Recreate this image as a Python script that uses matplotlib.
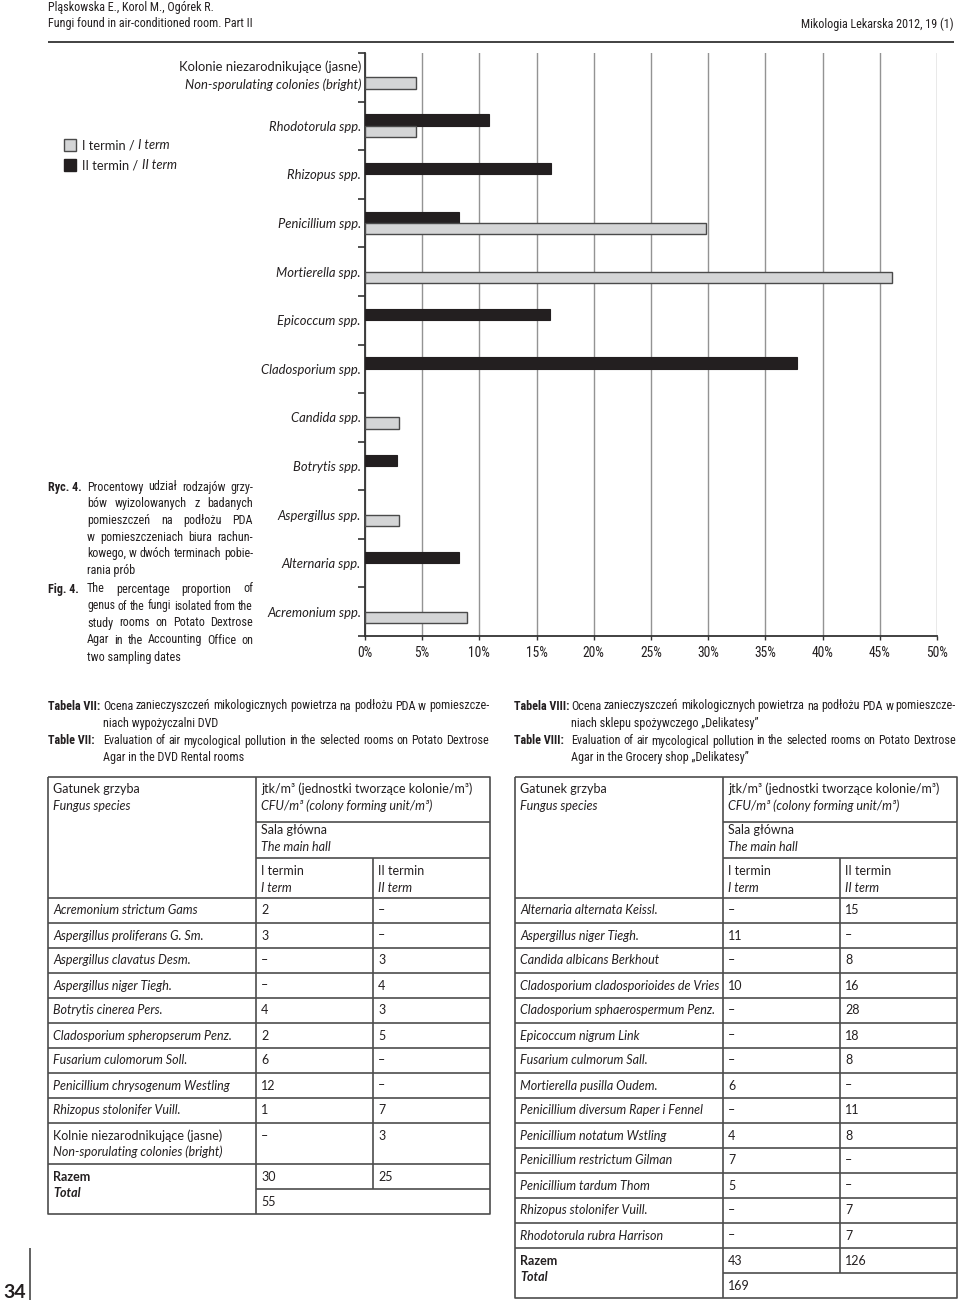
import numpy as np
import matplotlib
matplotlib.use("Agg")
import matplotlib.pyplot as plt
from matplotlib import font_manager

INK = "#231f20"
BODY = "Lato"

# a condensed family if one is installed, otherwise Roboto (sized to fit below)
cond_names = sorted({f.name for f in font_manager.fontManager.ttflist if f.stretch == "condensed"})
COND, STRETCH = "Roboto", "normal"
for pref in ["Liberation Sans Narrow", "Roboto Condensed", "Open Sans Condensed",
             "Noto Sans", "Roboto", "Open Sans", "Liberation Sans", "DejaVu Sans"]:
    if pref in cond_names:
        COND, STRETCH = pref, "condensed"
        break

# ---------------- chart data (% of isolates) ----------------
categories = ["Non-sporulating colonies (bright)", "Rhodotorula spp.", "Rhizopus spp.",
              "Penicillium spp.", "Mortierella spp.", "Epicoccum spp.", "Cladosporium spp.",
              "Candida spp.", "Botrytis spp.", "Aspergillus spp.", "Alternaria spp.",
              "Acremonium spp."]
term1 = [4.5, 4.5, 0, 29.8, 46.1, 0, 0, 3.0, 0, 3.0, 0, 8.9]
term2 = [0, 10.8, 16.3, 8.2, 0, 16.2, 37.8, 0, 2.8, 0, 8.2, 0]
xticks = [0, 5, 10, 15, 20, 25, 30, 35, 40, 45, 50]

# ---------------- table VII ----------------
t7_species = ["Acremonium strictum Gams", "Aspergillus proliferans G. Sm.",
              "Aspergillus clavatus Desm.", "Aspergillus niger Tiegh.",
              "Botrytis cinerea Pers.", "Cladosporium spheropserum Penz.",
              "Fusarium culomorum Soll.", "Penicillium chrysogenum Westling",
              "Rhizopus stolonifer Vuill."]
t7_term1 = ["2", "3", "–", "–", "4", "2", "6", "12", "1"]
t7_term2 = ["–", "–", "3", "4", "3", "5", "–", "–", "7"]
t7_bright = ["–", "3"]
t7_totals = ["30", "25", "55"]

# ---------------- table VIII ----------------
t8_species = ["Alternaria alternata Keissl.", "Aspergillus niger Tiegh.",
              "Candida albicans Berkhout", "Cladosporium cladosporioides de Vries",
              "Cladosporium sphaerospermum Penz.", "Epicoccum nigrum Link",
              "Fusarium culmorum Sall.", "Mortierella pusilla Oudem.",
              "Penicillium diversum Raper i Fennel", "Penicillium notatum Wstling",
              "Penicillium restrictum Gilman", "Penicillium tardum Thom",
              "Rhizopus stolonifer Vuill.", "Rhodotorula rubra Harrison"]
t8_term1 = ["–", "11", "–", "10", "–", "–", "–", "6", "–", "4", "7", "5", "–", "–"]
t8_term2 = ["15", "–", "8", "16", "28", "18", "8", "–", "11", "8", "–", "–", "7", "7"]
t8_totals = ["43", "126", "169"]

cap_pl = "Ocena zanieczyszczeń mikologicznych powietrza na podłożu PDA w pomieszcze-"
cap_en = "Evaluation of air mycological pollution in the selected rooms on Potato Dextrose"

fig = plt.figure(figsize=(9.6, 13.04), dpi=100)

# page layer in pixel coordinates
page = fig.add_axes([0, 0, 1, 1])
page.set_xlim(0, 960)
page.set_ylim(1304, 0)
page.axis("off")
renderer = fig.canvas.get_renderer()

TS = 9.0   # table text size


def txt(x, y, s, size=None, family=None, **kw):
    kw.setdefault("va", "center")
    if family is None:
        family = COND
        kw.setdefault("fontstretch", STRETCH)
    return page.text(x, y, s, fontsize=size or CS, family=family, color=INK, **kw)


def width_of(s, size, **kw):
    t = txt(0, 0, s, size=size, **kw)
    w = t.get_window_extent(renderer).width
    t.remove()
    return w


# size the condensed-style text so the caption line takes its width in the page
CS = 10 * 383 / width_of(cap_pl, 10)


def line(xs, ys, lw=1.2, color="#4d4d4d"):
    page.plot(xs, ys, color=color, lw=lw, solid_capstyle="butt")


def justified(s, x0, x1, y):
    words = s.split()
    size = CS
    widths = [width_of(w, size) for w in words]
    need = sum(widths) + 2.5 * (len(words) - 1)
    if need > x1 - x0:
        size *= (x1 - x0) / need
        widths = [width_of(w, size) for w in words]
    gap = (x1 - x0 - sum(widths)) / max(len(words) - 1, 1)
    x = x0
    for w, wd in zip(words, widths):
        txt(x, y, w, size=size)
        x += wd + gap


# header
txt(48, 7, "Pląskowska E., Korol M., Ogórek R.")
txt(48, 24, "Fungi found in air-conditioned room. Part II")
txt(954, 24, "Mikologia Lekarska 2012, 19 (1)", ha="right")
line([48, 954], [42, 42], lw=1.3, color="#333333")

# ---------------- bar chart ----------------
ax = fig.add_axes([365 / 960, 1 - 636 / 1304, 572 / 960, 583 / 1304])
y = np.arange(len(categories))
t1 = np.array(term1)
t2 = np.array(term2)
bh = 0.235
m1 = t1 > 0
m2 = t2 > 0
ax.barh(y[m2] - bh / 2, t2[m2], height=bh, color=INK, edgecolor=INK, lw=0.8, zorder=3)
ax.barh(y[m1] + bh / 2, t1[m1], height=bh, color="#d4d5d6", edgecolor="#4a4a4a", lw=1.0, zorder=3)
ax.set_xlim(0, 50)
ax.set_ylim(len(categories) - 0.5, -0.5)
ax.set_xticks(xticks)
ax.set_xticklabels([f"{v}%" for v in xticks], fontsize=CS * 1.12, family=COND,
                   fontstretch=STRETCH, color=INK)
ax.tick_params(axis="x", length=3, width=1, color="#333333", pad=4)
ax.grid(axis="x", color="#939393", lw=1.0, zorder=0)
ax.set_yticks(y)
ax.set_yticklabels([""] + categories[1:], fontsize=9.4, family=BODY, style="italic", color=INK)
ax.set_yticks(np.arange(-0.5, len(categories)), minor=True)
ax.tick_params(axis="y", which="major", length=0, pad=3)
ax.tick_params(axis="y", which="minor", length=5, width=1.2, color="#333333")
for s in ["top", "right"]:
    ax.spines[s].set_visible(False)
for s in ["left", "bottom"]:
    ax.spines[s].set_color("#333333")
    ax.spines[s].set_linewidth(1.3)
tr = ax.get_yaxis_transform()
ax.text(-0.006, -0.22, "Kolonie niezarodnikujące (jasne)", transform=tr, ha="right", va="center",
        fontsize=9.4, family=BODY, color=INK)
ax.text(-0.006, 0.15, categories[0], transform=tr, ha="right", va="center",
        fontsize=9.4, family=BODY, style="italic", color=INK)

# legend
page.add_patch(plt.Rectangle((64, 139), 12, 12, facecolor="#d4d5d6", edgecolor="#4a4a4a", lw=1))
page.add_patch(plt.Rectangle((64, 159), 12, 12, facecolor=INK, edgecolor=INK, lw=1))
for yy, a, b in [(145, "I termin / ", "I term"), (165, "II termin / ", "II term")]:
    t = txt(82, yy, a, size=9.3, family=BODY)
    page.annotate(b, xy=(1, 0.5), xycoords=t, va="center", ha="left", fontsize=9.3,
                  family=BODY, style="italic", color=INK)

# figure caption
ryc_lines = ["Procentowy udział rodzajów grzy-", "bów wyizolowanych z badanych",
             "pomieszczeń na podłożu PDA", "w pomieszczeniach biura rachun-",
             "kowego, w dwóch terminach pobie-", "rania prób"]
fig_lines = ["The percentage proportion of", "genus of the fungi isolated from the",
             "study rooms on Potato Dextrose", "Agar in the Accounting Office on",
             "two sampling dates"]
txt(48, 487, "Ryc. 4.", weight="bold")
for i, s in enumerate(ryc_lines):
    yy = 487 + 16.7 * i
    if i < len(ryc_lines) - 1:
        justified(s, 87, 253, yy)
    else:
        txt(87, yy, s)
txt(48, 589, "Fig. 4.", weight="bold")
for i, s in enumerate(fig_lines):
    yy = 589 + 17 * i
    if i < len(fig_lines) - 1:
        justified(s, 87, 253, yy)
    else:
        txt(87, yy, s)

# table captions
for lab_pl, lab_en, x0, tx, x1, pl2, en2 in [
        ("Tabela VII:", "Table VII:", 48, 103, 489,
         "niach wypożyczalni DVD", "Agar in the DVD Rental rooms"),
        ("Tabela VIII:", "Table VIII:", 514, 571, 956,
         "niach sklepu spożywczego „Delikatesy”", "Agar in the Grocery shop „Delikatesy”")]:
    txt(x0, 706, lab_pl, weight="bold")
    justified(cap_pl, tx, x1, 706)
    txt(tx, 723, pl2)
    txt(x0, 741, lab_en, weight="bold")
    justified(cap_en, tx, x1, 741)
    txt(tx, 758, en2)


def table(X, species, v1, v2, extra, totals):
    x0, x1, x2, x3 = X
    fs = TS
    H = [777, 822, 858, 898]
    rh = 25
    rows = [H[3] + rh * i for i in range(len(species) + 1)]
    y_end = rows[-1]
    if extra:
        y_end += 41
        rows.append(y_end)
    tot_mid = y_end + rh
    bottom = tot_mid + rh
    # grid
    line([x0, x3, x3, x0, x0], [H[0], H[0], bottom, bottom, H[0]])
    line([x1, x1], [H[0], bottom])
    line([x2, x2], [H[2], tot_mid])
    for hy in H[1:3]:
        line([x1, x3], [hy, hy])
    for ry in rows:
        line([x0, x3], [ry, ry])
    line([x1, x3], [tot_mid, tot_mid])
    # header texts
    txt(x0 + 5, 789, "Gatunek grzyba", size=fs, family=BODY)
    txt(x0 + 5, 806, "Fungus species", size=fs, family=BODY, style="italic")
    txt(x1 + 5, 789, "jtk/m³ (jednostki tworzące kolonie/m³)", size=fs, family=BODY)
    txt(x1 + 5, 806, "CFU/m³ (colony forming unit/m³)", size=fs, family=BODY, style="italic")
    txt(x1 + 5, 830, "Sala główna", size=fs, family=BODY)
    txt(x1 + 5, 847, "The main hall", size=fs, family=BODY, style="italic")
    txt(x1 + 5, 871, "I termin", size=fs, family=BODY)
    txt(x1 + 5, 888, "I term", size=fs, family=BODY, style="italic")
    txt(x2 + 5, 871, "II termin", size=fs, family=BODY)
    txt(x2 + 5, 888, "II term", size=fs, family=BODY, style="italic")
    # body
    for i, (sp, a, b) in enumerate(zip(species, v1, v2)):
        yc = rows[i] + rh / 2
        txt(x0 + 5, yc, sp, size=fs, family=BODY, style="italic")
        txt(x1 + 5, yc, a, size=fs, family=BODY)
        txt(x2 + 5, yc, b, size=fs, family=BODY)
    if extra:
        yk = rows[-2] + 13
        txt(x0 + 5, yk, "Kolnie niezarodnikujące (jasne)", size=fs, family=BODY)
        txt(x0 + 5, yk + 16, "Non-sporulating colonies (bright)", size=fs, family=BODY, style="italic")
        txt(x1 + 5, yk, extra[0], size=fs, family=BODY)
        txt(x2 + 5, yk, extra[1], size=fs, family=BODY)
    txt(x0 + 5, y_end + 13, "Razem", size=fs, family=BODY, weight="bold")
    txt(x0 + 5, y_end + 29, "Total", size=fs, family=BODY, weight="bold", style="italic")
    txt(x1 + 5, y_end + 13, totals[0], size=fs, family=BODY)
    txt(x2 + 5, y_end + 13, totals[1], size=fs, family=BODY)
    txt(x1 + 5, tot_mid + 13, totals[2], size=fs, family=BODY)


table((48, 256, 373, 490), t7_species, t7_term1, t7_term2, t7_bright, t7_totals)
table((515, 723, 840, 957), t8_species, t8_term1, t8_term2, None, t8_totals)

# page number
txt(3, 1292, "34", size=14, family=BODY, weight="bold")
line([30, 30], [1248, 1300], lw=1.3, color="#555555")

fig.savefig("out.png", dpi=100)
